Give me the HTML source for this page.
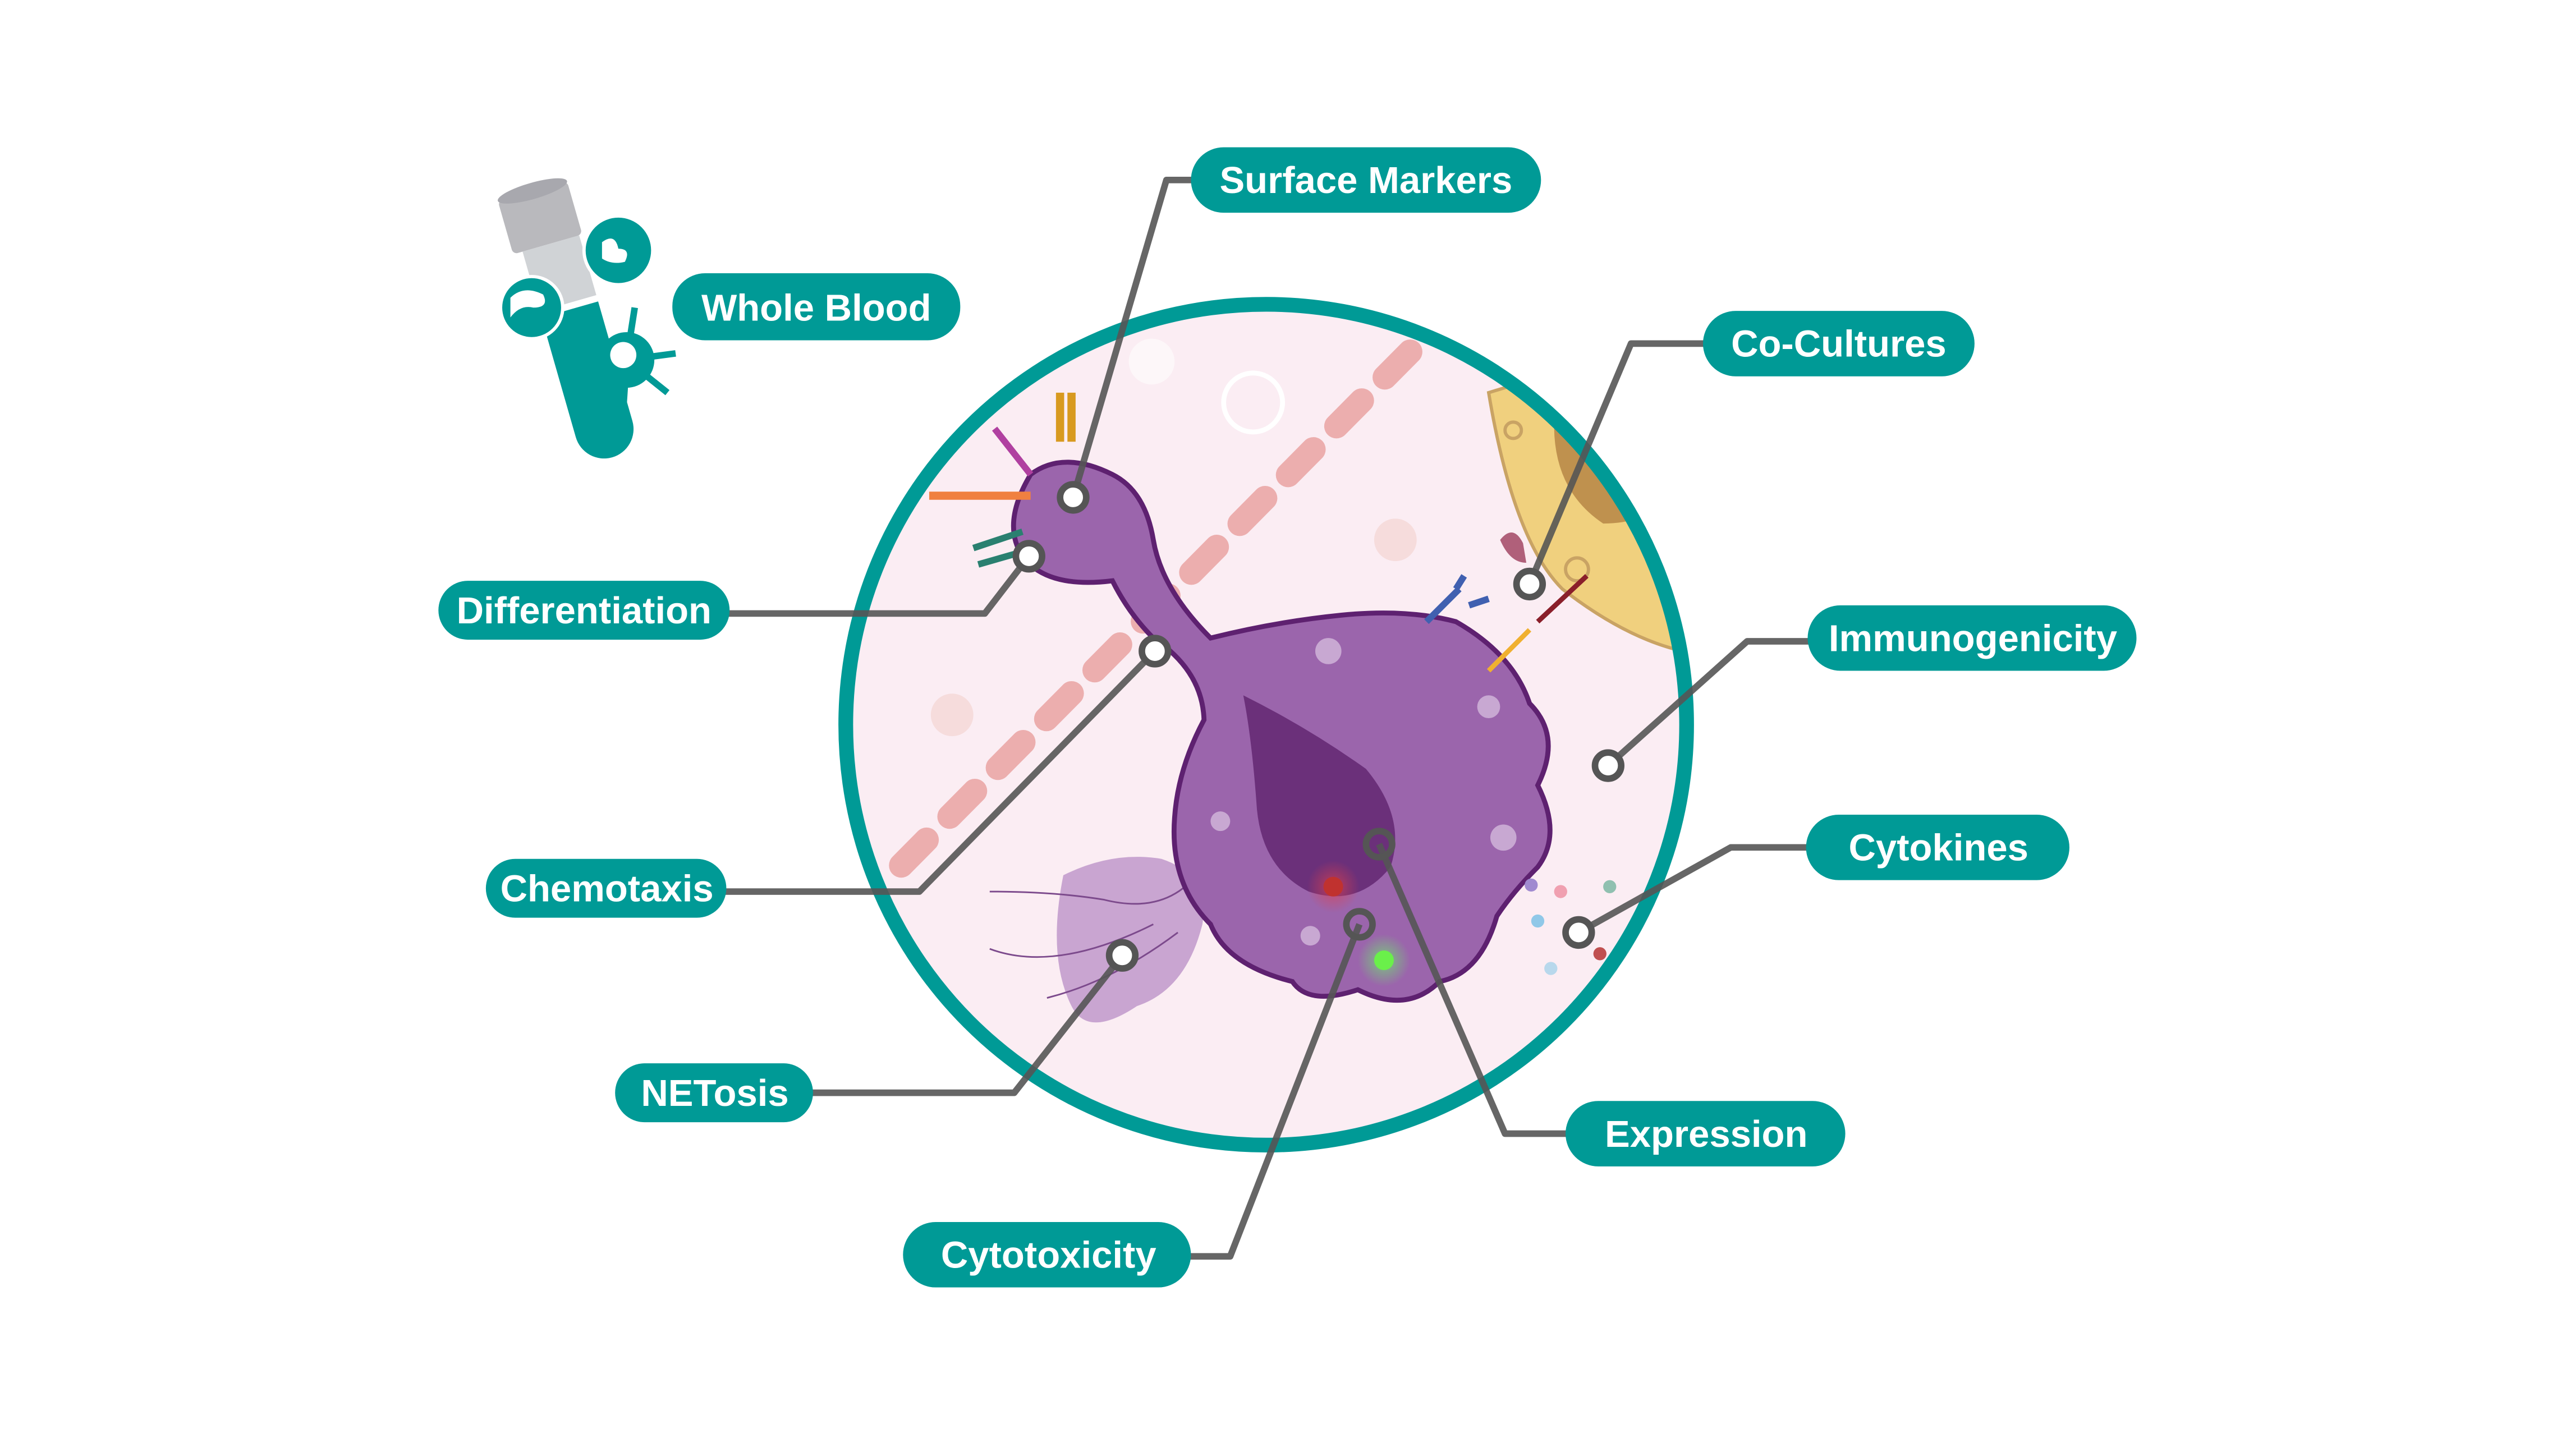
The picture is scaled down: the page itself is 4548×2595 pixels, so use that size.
<!DOCTYPE html>
<html><head><meta charset="utf-8"><style>
html,body{margin:0;padding:0;background:#fff;}
svg{display:block;}
text{font-family:"Liberation Sans",sans-serif;font-weight:bold;fill:#fff;font-size:23px;}
</style></head><body>
<svg width="4548" height="2595" viewBox="0 0 1560 890" xmlns="http://www.w3.org/2000/svg">
<defs><clipPath id="cc"><circle cx="774" cy="443" r="257"/></clipPath>
<radialGradient id="rg"><stop offset="0" stop-color="#e0404a" stop-opacity=".7"/><stop offset="1" stop-color="#e0404a" stop-opacity="0"/></radialGradient>
<radialGradient id="gg"><stop offset="0" stop-color="#70e070" stop-opacity=".8"/><stop offset="1" stop-color="#70e070" stop-opacity="0"/></radialGradient>
</defs>
<rect width="1560" height="890" fill="#fff"/>
<!-- tube -->
<g transform="rotate(-16 360 190)">
<rect x="325" y="110" width="44" height="34" rx="3" fill="#b9b9bd"/>
<ellipse cx="347" cy="110" rx="22" ry="5" fill="#a8a8ae"/>
<rect x="331" y="144" width="36" height="38" fill="#d0d3d6"/>
<path d="M331 186 H367 V262 a18 18 0 0 1 -36 0 Z" fill="#009a96"/>
</g>
<circle cx="325" cy="188" r="19" fill="#009a96" stroke="#fff" stroke-width="2"/>
<path d="M312 182 q8-8 20-2 q4 8-6 8 q-8-2-14 6z" fill="#fff"/>
<circle cx="378" cy="153" r="21" fill="#009a96" stroke="#fff" stroke-width="2"/>
<path d="M368 148 q8-6 10 4 q8 0 4 8 q-8 2-14-2z" fill="#fff"/>
<circle cx="383" cy="220" r="17" fill="#009a96"/>
<path d="M383 220 l30-4 M383 220 l-28 -4 M383 220 l-20 20 M383 220 l5 -32 M383 220 l25 20 M383 220 l-2 30" stroke="#009a96" stroke-width="4"/>
<circle cx="381" cy="217" r="8" fill="#fff"/>
<!-- circle bg -->
<circle cx="774" cy="443" r="257" fill="#fbedf3"/>
<g clip-path="url(#cc)">
<line x1="862" y1="215" x2="540" y2="540" stroke="#ecaeae" stroke-width="15" stroke-linecap="round" stroke-dasharray="22 20"/>
<circle cx="853" cy="330" r="13" fill="#f6dcdc"/><circle cx="582" cy="437" r="13" fill="#f6dcdc"/>
<circle cx="704" cy="221" r="14" fill="#fdf7f9"/>
<circle cx="766" cy="246" r="18" fill="none" stroke="#fff" stroke-width="3"/>
<path d="M910 240 Q925 330 955 360 Q1000 395 1040 400 L1040 200 Z" fill="#f0d07e" stroke="#c9a364" stroke-width="2"/>
<path d="M950 260 Q950 300 980 320 Q1010 320 1020 300 L1000 240Z" fill="#bf914e"/>
<circle cx="925" cy="263" r="5" fill="none" stroke="#c9a364" stroke-width="2"/>
<circle cx="964" cy="348" r="7" fill="none" stroke="#c9a364" stroke-width="2"/>
<path d="M917 330 q8-10 14 2 l2 12 q-10 0-16-14z" fill="#b0607a"/>
</g>
<!-- NET -->
<path d="M650 535 q30-15 60-10 q30 10 25 40 q-10 40-40 50 q-30 20-40 0 q-15-30-5-80z" fill="#c9a5d1"/>
<path d="M605 545 q40 0 70 5 q40 10 60-20 M605 580 q40 15 100-15 M640 610 q40-10 80-40" stroke="#7c4a8c" stroke-width="1" fill="none"/>
<!-- cell -->
<path d="M630 290 Q650 275 680 290 Q700 300 705 330 Q710 360 740 390 Q780 380 820 376 Q860 372 890 380 Q925 400 935 430 Q955 450 940 480 Q955 510 940 530 Q925 545 915 560 Q905 595 880 600 Q860 620 830 605 Q800 615 790 600 Q750 590 740 565 Q715 540 718 500 Q720 470 736 440 Q735 410 705 390 Q690 375 680 355 Q640 360 625 340 Q612 320 630 290Z" fill="#9b65ac" stroke="#5e2170" stroke-width="3"/>
<path d="M760 425 Q800 445 835 470 Q860 500 850 530 Q830 555 800 545 Q770 530 768 490 Q765 450 760 425Z" fill="#6b307a"/>
<circle cx="812" cy="398" r="8" fill="#c8a8d2"/><circle cx="910" cy="432" r="7" fill="#c8a8d2"/>
<circle cx="746" cy="502" r="6" fill="#c8a8d2"/><circle cx="919" cy="512" r="8" fill="#c8a8d2"/>
<circle cx="801" cy="572" r="6" fill="#c8a8d2"/>
<circle cx="815" cy="542" r="16" fill="url(#rg)"/><circle cx="815" cy="542" r="6" fill="#c0322f"/>
<circle cx="846" cy="587" r="16" fill="url(#gg)"/><circle cx="846" cy="587" r="6" fill="#6af04a"/>
<!-- receptors -->
<path d="M648 240 v30 M655 240 v30" stroke="#d89a20" stroke-width="5"/>
<path d="M568 303 H630" stroke="#f08040" stroke-width="5"/>
<path d="M608 262 L630 290" stroke="#b040a0" stroke-width="4"/>
<path d="M595 335 l30-10 M598 345 l28-8" stroke="#2a8070" stroke-width="4"/>
<path d="M872 380 l20-20 M890 360 l5-8 M898 370 l12-4" stroke="#4060b0" stroke-width="4"/>
<path d="M910 410 l25-25" stroke="#f0b030" stroke-width="3"/>
<path d="M940 380 l30-28" stroke="#8a1f2a" stroke-width="3"/>
<circle cx="936" cy="541" r="4" fill="#a08ad0"/><circle cx="954" cy="545" r="4" fill="#f0a0b0"/>
<circle cx="940" cy="563" r="4" fill="#90c8e8"/><circle cx="984" cy="542" r="4" fill="#90c0b0"/>
<circle cx="948" cy="592" r="4" fill="#b8d8ec"/><circle cx="978" cy="583" r="4" fill="#c05050"/>
<circle cx="774" cy="443" r="257" fill="none" stroke="#009a96" stroke-width="9"/>
<!-- connectors -->
<g stroke="#555" stroke-opacity=".9" stroke-width="4" fill="none" stroke-linejoin="round">
<polyline points="656,304 713,110 740,110"/>
<polyline points="935,357 997,210 1050,210"/>
<polyline points="440,375 602,375 629,340"/>
<polyline points="983,468 1068,392 1110,392"/>
<polyline points="440,545 562,545 706,398"/>
<polyline points="965,570 1058,518 1110,518"/>
<polyline points="490,668 620,668 686,584"/>
<polyline points="843,516 920,693 965,693"/>
<polyline points="831,565 752,768 720,768"/>
</g>
<g fill="#fff" stroke="#555" stroke-width="4">
<circle cx="656" cy="304" r="8"/><circle cx="935" cy="357" r="8"/><circle cx="629" cy="340" r="8"/>
<circle cx="983" cy="468" r="8"/><circle cx="706" cy="398" r="8"/><circle cx="965" cy="570" r="8"/>
<circle cx="686" cy="584" r="8"/><circle cx="843" cy="516" r="8" fill="none"/><circle cx="831" cy="565" r="8" fill="none"/>
</g>
<!-- pills -->
<g fill="#009a96">
<rect x="728" y="90" width="214" height="40" rx="20"/>
<rect x="411" y="167" width="176" height="41" rx="20"/>
<rect x="1041" y="190" width="166" height="40" rx="20"/>
<rect x="268" y="355" width="178" height="36" rx="18"/>
<rect x="1105" y="370" width="201" height="40" rx="20"/>
<rect x="297" y="525" width="147" height="36" rx="18"/>
<rect x="1104" y="498" width="161" height="40" rx="20"/>
<rect x="376" y="650" width="121" height="36" rx="18"/>
<rect x="957" y="673" width="171" height="40" rx="20"/>
<rect x="552" y="747" width="176" height="40" rx="20"/>
</g>
<g text-anchor="middle">
<text x="835" y="118">Surface Markers</text>
<text x="499" y="196">Whole Blood</text>
<text x="1124" y="218">Co-Cultures</text>
<text x="357" y="381">Differentiation</text>
<text x="1206" y="398">Immunogenicity</text>
<text x="371" y="551">Chemotaxis</text>
<text x="1185" y="526">Cytokines</text>
<text x="437" y="676">NETosis</text>
<text x="1043" y="701">Expression</text>
<text x="641" y="775">Cytotoxicity</text>
</g>
</svg>
</body></html>
